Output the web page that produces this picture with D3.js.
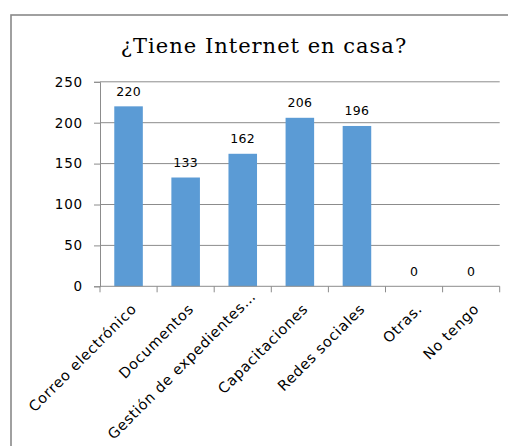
<!DOCTYPE html>
<html>
<head>
<meta charset="utf-8">
<script src="https://cdn.jsdelivr.net/npm/d3@7"></script>
<style>
  html, body { margin: 0; padding: 0; background: #fff; }
  svg { display: block; }
</style>
</head>
<body>
<svg id="chart" width="508" height="446"></svg>
<script>
const title = "¿Tiene Internet en casa?";
const categories = ["Correo electrónico", "Documentos", "Gestión de expedientes…", "Capacitaciones", "Redes sociales", "Otras.", "No tengo"];
const values = [220, 133, 162, 206, 196, 0, 0];
const yTicks = [0, 50, 100, 150, 200, 250];

const svg = d3.select("#chart");
const plot = { left: 100, right: 499.7, top: 81.8, bottom: 286.3 };

// outer frame
svg.append("rect")
  .attr("x", 11).attr("y", 15)
  .attr("width", 520).attr("height", 460)
  .attr("fill", "#fff")
  .attr("stroke", "#898989")
  .attr("stroke-width", 1.6);

const x = d3.scaleBand().domain(categories).range([plot.left, plot.right]).paddingInner(0.5).paddingOuter(0.25);
const xb = d3.scaleBand().domain(categories).range([plot.left, plot.right]);
const y = d3.scaleLinear().domain([0, 250]).range([plot.bottom, plot.top]);

// gridlines
svg.append("g").selectAll("line").data(yTicks.filter(d => d > 0)).join("line")
  .attr("x1", plot.left).attr("x2", plot.right)
  .attr("y1", d => y(d)).attr("y2", d => y(d))
  .attr("stroke", "#8c8c8c").attr("stroke-width", 1);

// bars
svg.append("g").selectAll("rect").data(values).join("rect")
  .attr("x", (d, i) => x(categories[i]))
  .attr("width", x.bandwidth())
  .attr("y", d => y(d))
  .attr("height", d => y(0) - y(d))
  .attr("fill", "#5b9bd5");

// y axis
const yAxis = d3.axisLeft(y).tickValues(yTicks).tickSize(6).tickPadding(11);
const gy = svg.append("g").attr("transform", `translate(${plot.left},0)`).call(yAxis);
gy.select(".domain").attr("stroke", "#8c8c8c");
gy.selectAll(".tick line").attr("stroke", "#8c8c8c");
gy.selectAll(".tick text")
  .attr("font-family", "DejaVu Sans, sans-serif")
  .attr("font-size", "13.5px")
  .attr("letter-spacing", "0.8px")
  .attr("fill", "#000");

// x axis line + boundary ticks
const gx = svg.append("g");
gx.append("line")
  .attr("x1", plot.left).attr("x2", plot.right)
  .attr("y1", y(0)).attr("y2", y(0))
  .attr("stroke", "#8c8c8c");
const bounds = categories.map(c => xb(c)).concat([plot.right]);
gx.selectAll("line.tk").data(bounds).join("line").attr("class", "tk")
  .attr("x1", d => d).attr("x2", d => d)
  .attr("y1", y(0)).attr("y2", y(0) + 6)
  .attr("stroke", "#8c8c8c");

// category labels (the truncated long label is nudged up as in the original layout)
svg.append("g").selectAll("text").data(categories).join("text")
  .attr("transform", d => {
    const long = d.endsWith("…");
    const dx = long ? 14 : 9;
    const dy = long ? 11 : 23.5;
    return `translate(${xb(d) + xb.bandwidth() / 2 + dx},${y(0) + dy}) rotate(-45)`;
  })
  .attr("text-anchor", "end")
  .attr("font-family", "DejaVu Sans, sans-serif")
  .attr("font-size", "14.5px")
  .attr("letter-spacing", "0.7px")
  .attr("fill", "#000")
  .text(d => d);

// value labels
svg.append("g").selectAll("text").data(values).join("text")
  .attr("x", (d, i) => xb(categories[i]) + xb.bandwidth() / 2)
  .attr("y", d => y(d) - 10.5)
  .attr("text-anchor", "middle")
  .attr("font-family", "DejaVu Sans, sans-serif")
  .attr("font-size", "12.5px")
  .attr("letter-spacing", "0.3px")
  .attr("fill", "#000")
  .text(d => d);

// title
svg.append("text")
  .attr("x", 264).attr("y", 53)
  .attr("text-anchor", "middle")
  .attr("font-family", "DejaVu Serif, serif")
  .attr("font-size", "21px")
  .attr("letter-spacing", "1px")
  .attr("fill", "#000")
  .text(title);
</script>
</body>
</html>
